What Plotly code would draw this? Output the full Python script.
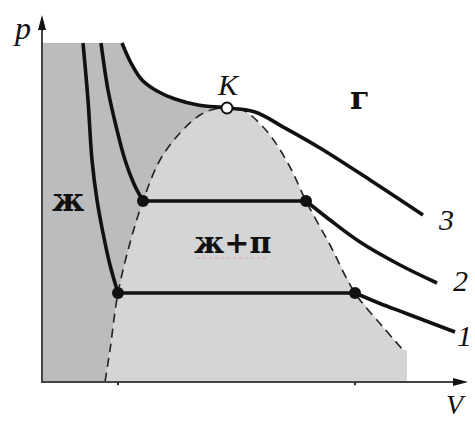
import plotly.graph_objects as go

# Isotherms of a real gas in p-V coordinates (arbitrary units)
# isotherm 1 (lowest temperature): liquid branch, then gas branch
iso1_liq_V = [1.025, 1.15, 1.25, 1.375, 1.525, 1.70, 1.90]
iso1_liq_p = [8.475, 7.05, 5.55, 4.55, 3.725, 2.925, 2.225]
iso1_gas_V = [7.825, 8.45, 9.075, 10.325]
iso1_gas_p = [2.225, 1.9625, 1.725, 1.25]

# isotherm 2
iso2_liq_V = [1.475, 1.65, 1.85, 2.075, 2.30, 2.525]
iso2_liq_p = [8.475, 7.30, 6.40, 5.55, 4.95, 4.525]
iso2_gas_V = [6.60, 7.20, 7.95, 8.95, 9.875]
iso2_gas_p = [4.525, 4.05, 3.50, 2.925, 2.475]

# isotherm 3 (critical), passes through K
iso3_V = [2.0, 2.225, 2.5, 2.875, 3.325, 3.9, 4.625, 5.325, 6.075, 6.95, 8.2, 9.525]
iso3_p = [8.475, 7.975, 7.55, 7.275, 7.075, 6.925, 6.85, 6.75, 6.35, 5.85, 5.05, 4.175]
K_ISO = 6

# boundary of the two-phase region (dashed)
bin_V = [1.575, 1.70, 1.90, 2.2, 2.525, 2.95, 3.45, 3.95, 4.325, 4.625,
         5.075, 5.275, 5.7, 6.2, 6.6, 7.2, 7.825, 8.525, 9.025]
bin_p = [0, 0.8, 2.225, 3.475, 4.525, 5.55, 6.225, 6.675, 6.825, 6.85,
         6.775, 6.625, 6.175, 5.375, 4.525, 3.425, 2.225, 1.375, 0.8]
K_BIN = 9

# extents of the shaded areas and axes
P_TOP = 8.475
V_EDGE = 9.125
V_AXIS = 10.65
P_AXIS = 9.175
ARROW_LEN = 0.375
ARROW_HALF = 0.1
TICK_LEN = 0.08

DARK = "#bbbcbe"
LIGHT = "#d4d5d7"
INK = "#111111"
SERIF = "Liberation Serif"
SERIF_BOLD = "DejaVu Serif"

fig = go.Figure()

# two-phase region (ж+п), plus the strip below the gas branch
light_V = bin_V + [V_EDGE, V_EDGE, bin_V[0]]
light_p = bin_p + [bin_p[-1], 0, 0]
fig.add_trace(go.Scatter(x=light_V, y=light_p, fill="toself", fillcolor=LIGHT,
                         line=dict(width=0), mode="lines", hoverinfo="skip"))

# liquid region (ж)
dark_V = [0] + iso3_V[:K_ISO + 1] + bin_V[:K_BIN + 1][::-1] + [0]
dark_p = [P_TOP] + iso3_p[:K_ISO + 1] + bin_p[:K_BIN + 1][::-1] + [0]
fig.add_trace(go.Scatter(x=dark_V, y=dark_p, fill="toself", fillcolor=DARK,
                         line=dict(width=0), mode="lines", hoverinfo="skip"))

# dashed phase boundary
fig.add_trace(go.Scatter(x=bin_V, y=bin_p, mode="lines",
                         line=dict(color="#222222", width=1.6, dash="9px,6px", shape="spline"),
                         hoverinfo="skip"))

iso_line = dict(color=INK, width=3.6, shape="spline")
tie_line = dict(color=INK, width=3.6)
for liq_V, liq_p, gas_V, gas_p in [(iso1_liq_V, iso1_liq_p, iso1_gas_V, iso1_gas_p),
                                   (iso2_liq_V, iso2_liq_p, iso2_gas_V, iso2_gas_p)]:
    fig.add_trace(go.Scatter(x=liq_V, y=liq_p, mode="lines", line=iso_line, hoverinfo="skip"))
    fig.add_trace(go.Scatter(x=gas_V, y=gas_p, mode="lines", line=iso_line, hoverinfo="skip"))
    fig.add_trace(go.Scatter(x=[liq_V[-1], gas_V[0]], y=[liq_p[-1], gas_p[0]],
                             mode="lines+markers", line=tie_line,
                             marker=dict(size=12, color=INK), hoverinfo="skip"))

fig.add_trace(go.Scatter(x=iso3_V, y=iso3_p, mode="lines", line=iso_line, hoverinfo="skip"))

# critical point K
fig.add_trace(go.Scatter(x=[iso3_V[K_ISO]], y=[iso3_p[K_ISO]], mode="markers",
                         marker=dict(size=11, color="white", line=dict(color=INK, width=2)),
                         hoverinfo="skip"))

# axes with arrowheads
axis_line = dict(color="#444444", width=2)
fig.add_trace(go.Scatter(x=[0, 0, V_AXIS - ARROW_LEN], y=[P_AXIS - ARROW_LEN, 0, 0],
                         mode="lines", line=axis_line, hoverinfo="skip"))
fig.add_trace(go.Scatter(x=[V_AXIS, V_AXIS - ARROW_LEN, V_AXIS - ARROW_LEN, V_AXIS],
                         y=[0, ARROW_HALF, -ARROW_HALF, 0], fill="toself", fillcolor=INK,
                         mode="lines", line=dict(width=0), hoverinfo="skip"))
fig.add_trace(go.Scatter(x=[0, ARROW_HALF, -ARROW_HALF, 0],
                         y=[P_AXIS, P_AXIS - ARROW_LEN, P_AXIS - ARROW_LEN, P_AXIS],
                         fill="toself", fillcolor=INK,
                         mode="lines", line=dict(width=0), hoverinfo="skip"))

# small marks on the V axis under the tie line of isotherm 1
for v in [iso1_liq_V[-1], iso1_gas_V[0]]:
    fig.add_trace(go.Scatter(x=[v, v], y=[0, -TICK_LEN], mode="lines",
                             line=dict(color="#333333", width=2), hoverinfo="skip"))

# label positions: (text, V, p, size, family, style, weight, xanchor)
labels = [
    ("p", -0.5, 8.85, 32, SERIF, "italic", "normal", "center"),
    ("K", 4.65, 7.45, 30, SERIF, "italic", "normal", "center"),
    ("г", 7.95, 7.1, 32, SERIF_BOLD, "normal", "bold", "center"),
    ("ж", 0.65, 4.55, 32, SERIF_BOLD, "normal", "bold", "center"),
    ("ж+п", 4.75, 3.5, 30, SERIF_BOLD, "normal", "bold", "center"),
    ("V", 10.35, -0.57, 28, SERIF, "italic", "normal", "center"),
    ("3", 10.1, 4.075, 30, SERIF, "italic", "normal", "center"),
    ("2", 10.45, 2.55, 30, SERIF, "italic", "normal", "center"),
    ("1", 10.8, 1.175, 30, SERIF, "italic", "normal", "right"),
]
for text, x, y, size, family, style, weight, xa in labels:
    fig.add_annotation(x=x, y=y, text=text, showarrow=False, xanchor=xa, yanchor="middle",
                       font=dict(family=family, size=size, color=INK, style=style, weight=weight))

# faint dotted underline beneath the two-phase label
fig.add_trace(go.Scatter(x=[3.875, 5.65], y=[3.1, 3.1], mode="lines",
                         line=dict(color="#e4a0a0", width=1, dash="dot"), hoverinfo="skip"))

fig.update_layout(
    width=475, height=421, margin=dict(l=0, r=0, t=0, b=0),
    paper_bgcolor="white", plot_bgcolor="white", showlegend=False,
    xaxis=dict(range=[-1.05, 10.825], visible=False, fixedrange=True),
    yaxis=dict(range=[-0.975, 9.55], visible=False, fixedrange=True),
)

fig.write_html("out.html")
